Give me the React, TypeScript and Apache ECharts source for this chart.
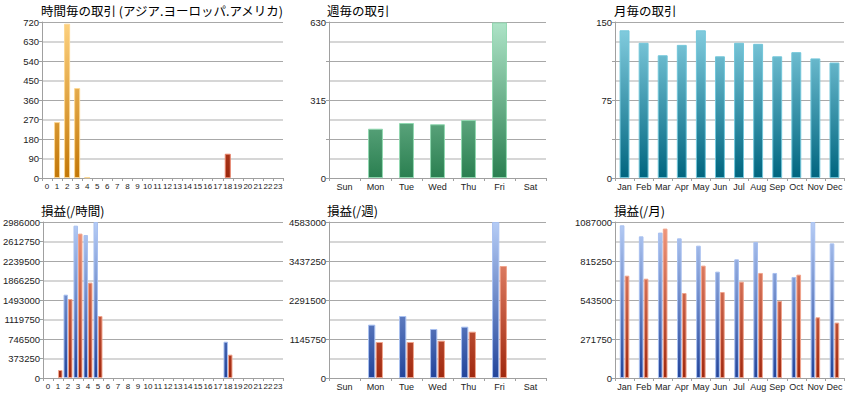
import React, { useEffect, useRef } from "react";
import * as echarts from "echarts";

const hours = ["0","1","2","3","4","5","6","7","8","9","10","11","12","13","14","15","16","17","18","19","20","21","22","23"];
const weekdays = ["Sun","Mon","Tue","Wed","Thu","Fri","Sat"];
const months = ["Jan","Feb","Mar","Apr","May","Jun","Jul","Aug","Sep","Oct","Nov","Dec"];

const hourlyTradesMain = [null,258,712,415,3,null,null,null,null,null,null,null,null,null,null,null,null,null,null,null,null,null,null,null];
const hourlyTradesOther = [null,null,null,null,null,null,null,null,null,null,null,null,null,null,null,null,null,null,112,null,null,null,null,null];
const weeklyTrades = [null,199,222,217,234,628,null];
const monthlyTrades = [142,130,118,128,142,117,130,129,117,121,115,111];

const hourlyProfitA = [null,null,1595000,2916000,2737000,2986000,null,null,null,null,null,null,null,null,null,null,null,null,695000,null,null,null,null,null];
const hourlyProfitB = [null,153000,1512000,2763000,1825000,1187000,null,null,null,null,null,null,null,null,null,null,null,null,447000,null,null,null,null,null];
const weeklyProfitA = [null,1567000,1821000,1440000,1508000,4583000,null];
const weeklyProfitB = [null,1058000,1058000,1097000,1361000,3290000,null];
const monthlyProfitA = [1064000,987000,1013000,973000,922000,741000,827000,948000,732000,704000,1087000,938000];
const monthlyProfitB = [713000,692000,1041000,592000,783000,599000,671000,732000,537000,720000,423000,386000];

const titles = ["時間毎の取引 (アジア.ヨーロッパ.アメリカ)", "週毎の取引", "月毎の取引", "損益(/時間)", "損益(/週)", "損益(/月)"];
const yMax = [720, 630, 150, 2986000, 4583000, 1087000];

export default function App() {
  const ref = useRef<HTMLDivElement>(null);
  useEffect(() => {
    document.body.style.margin = "0";
    const chart = echarts.init(ref.current!, null, { renderer: "svg" });
    const H = 156;
    const grids = [
      { left: 42, top: 22, width: 241, height: H },
      { left: 329, top: 22, width: 217, height: H },
      { left: 615, top: 22, width: 229, height: H },
      { left: 42, top: 222, width: 241, height: H },
      { left: 329, top: 222, width: 217, height: H },
      { left: 615, top: 222, width: 229, height: H },
    ];
    const font = "Liberation Sans, Arial, sans-serif";
    const axisGray = "#a0a0a0";
    const grad = (gi: number, top: string, bottom: string) =>
      new echarts.graphic.LinearGradient(0, grids[gi].top, 0, grids[gi].top + H, [
        { offset: 0, color: top },
        { offset: 1, color: bottom },
      ], true);

    const cats = [hours, weekdays, months, hours, weekdays, months];
    const xAxis = cats.map((c, i) => ({
      type: "category",
      gridIndex: i,
      data: c,
      boundaryGap: true,
      axisLine: { lineStyle: { color: axisGray } },
      axisTick: { show: true, length: 3, lineStyle: { color: axisGray } },
      axisLabel: {
        interval: 0,
        fontSize: c === hours ? 8 : 9,
        color: "#222",
        margin: 4,
        fontFamily: font,
      },
    }));

    const yAxis: any[] = [];
    const labelEvery = [1 / 8, 1 / 2, 1 / 2, 1 / 8, 1 / 4, 1 / 4];
    yMax.forEach((m, i) => {
      const step = m * labelEvery[i];
      yAxis.push({
        type: "value",
        gridIndex: i,
        min: 0,
        max: m,
        interval: m / 4,
        axisLine: { show: true, lineStyle: { color: axisGray } },
        axisTick: { show: labelEvery[i] !== 1 / 8, length: 3, lineStyle: { color: axisGray } },
        axisLabel: {
          show: labelEvery[i] !== 1 / 8,
          fontSize: 9.5,
          color: "#222",
          margin: 3,
          fontFamily: font,
          formatter: (v: number) => (Math.abs(v / step - Math.round(v / step)) < 1e-6 ? String(v) : ""),
        },
        splitLine: { show: true, lineStyle: { color: "#a8a8a8", width: 1 } },
        minorTick: { show: false, splitNumber: 2 },
        minorSplitLine: { show: true, lineStyle: { color: "#d6d6d6", width: 2 } },
      });
    });
    [0, 3].forEach((i) => {
      yAxis.push({
        type: "value",
        gridIndex: i,
        position: "left",
        min: 0,
        max: yMax[i],
        interval: yMax[i] / 8,
        axisLine: { show: false },
        axisTick: { show: true, length: 3, lineStyle: { color: axisGray } },
        axisLabel: { fontSize: 9.5, color: "#222", margin: 3, fontFamily: font, formatter: (v: number) => String(v) },
        splitLine: { show: false },
      });
    });

    const border = (c: string) => ({ borderColor: c, borderWidth: 1 });
    const orange = (gi: number) => ({ color: grad(gi, "#fdd17f", "#c27606"), ...border("#fcd792") });
    const darkRed = (gi: number) => ({ color: grad(gi, "#f0886a", "#9a260c"), ...border("#e8836a") });
    const green = (gi: number) => ({ color: grad(gi, "#afe4c8", "#2a7f50"), ...border("#90d8b0") });
    const teal = (gi: number) => ({ color: grad(gi, "#88d1e3", "#00657f"), ...border("#72c6da") });
    const blue = (gi: number) => ({ color: grad(gi, "#b6cdf6", "#22449a"), ...border("#a8c0f0") });
    const red = (gi: number) => ({ color: grad(gi, "#f29a80", "#a0280e"), ...border("#f0a48c") });

    const series: any[] = [
      { type: "bar", xAxisIndex: 0, yAxisIndex: 0, stack: "h", data: hourlyTradesMain, barWidth: "60%", itemStyle: orange(0) },
      { type: "bar", xAxisIndex: 0, yAxisIndex: 0, stack: "h", data: hourlyTradesOther, barWidth: "60%", itemStyle: darkRed(0) },
      { type: "bar", xAxisIndex: 1, yAxisIndex: 1, data: weeklyTrades, barWidth: "48%", itemStyle: green(1) },
      { type: "bar", xAxisIndex: 2, yAxisIndex: 2, data: monthlyTrades, barWidth: "52%", itemStyle: teal(2) },
      { type: "bar", xAxisIndex: 3, yAxisIndex: 3, data: hourlyProfitA, barGap: "0%", barCategoryGap: "10%", itemStyle: blue(3) },
      { type: "bar", xAxisIndex: 3, yAxisIndex: 3, data: hourlyProfitB, barGap: "0%", barCategoryGap: "10%", itemStyle: red(3) },
      { type: "bar", xAxisIndex: 4, yAxisIndex: 4, data: weeklyProfitA, barGap: "5%", barCategoryGap: "52%", itemStyle: blue(4) },
      { type: "bar", xAxisIndex: 4, yAxisIndex: 4, data: weeklyProfitB, barGap: "5%", barCategoryGap: "52%", itemStyle: red(4) },
      { type: "bar", xAxisIndex: 5, yAxisIndex: 5, data: monthlyProfitA, barGap: "5%", barCategoryGap: "50%", itemStyle: blue(5) },
      { type: "bar", xAxisIndex: 5, yAxisIndex: 5, data: monthlyProfitB, barGap: "5%", barCategoryGap: "50%", itemStyle: red(5) },
    ];

    const titleLeft = [41, 327, 614, 41, 327, 614];
    const titleTop = [4, 4, 4, 204, 204, 204];
    chart.setOption({
      animation: false,
      backgroundColor: "#ffffff",
      title: titles.map((t, i) => ({
        text: t,
        left: titleLeft[i],
        top: titleTop[i],
        padding: 0,
        textStyle: { fontSize: 12.5, fontWeight: "normal", color: "#000", fontFamily: "Noto Sans CJK JP, sans-serif" },
      })),
      grid: grids,
      xAxis,
      yAxis,
      series,
    });
    return () => chart.dispose();
  }, []);
  return <div ref={ref} style={{ width: 860, height: 400 }} />;
}
